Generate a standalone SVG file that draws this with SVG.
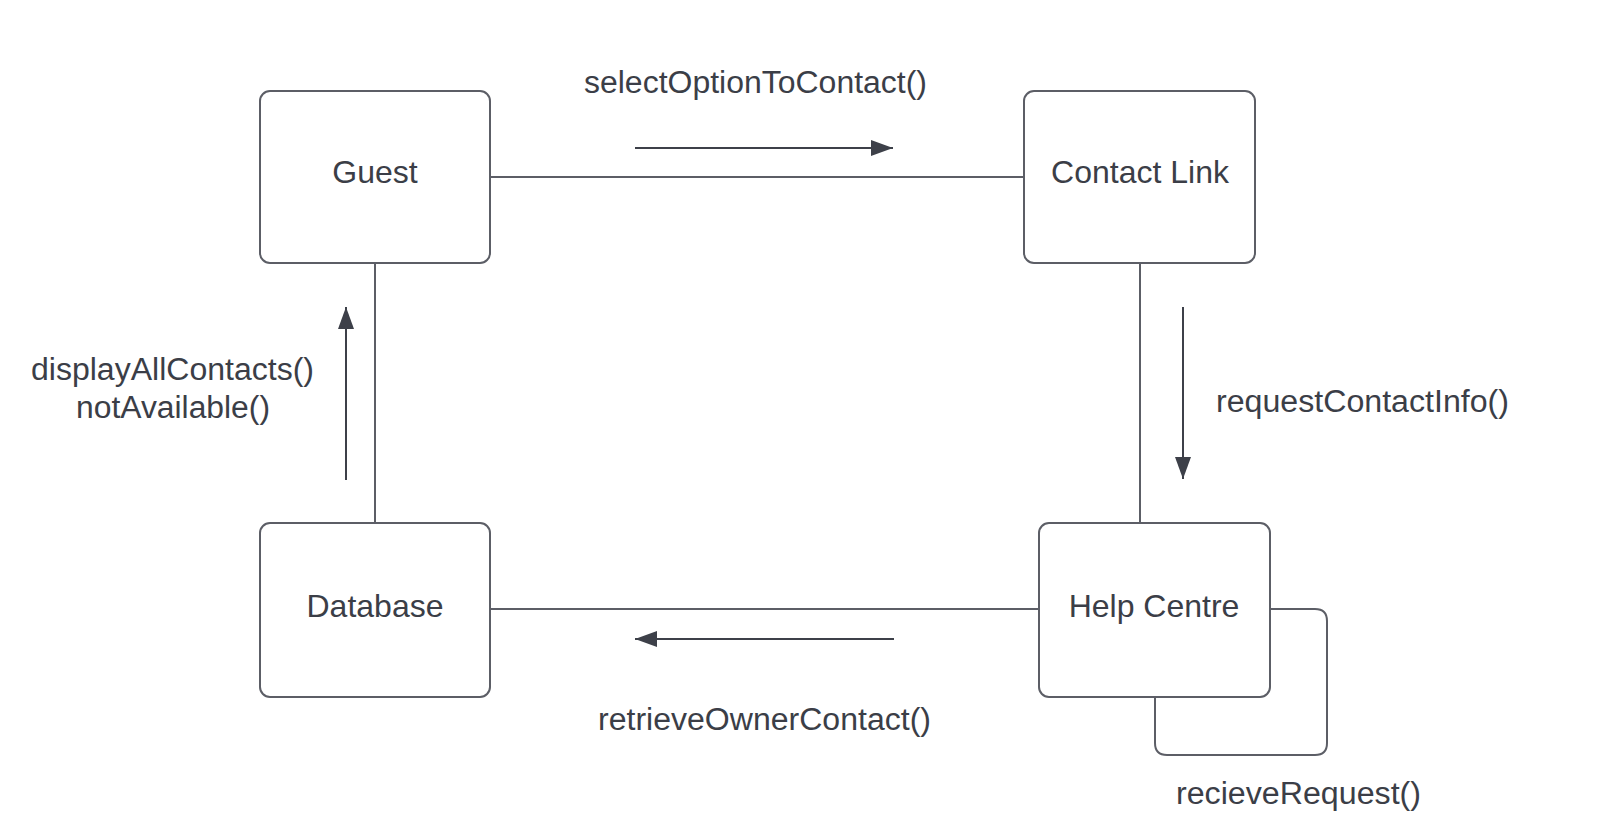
<svg xmlns="http://www.w3.org/2000/svg" width="1600" height="832" viewBox="0 0 1600 832">
<style>
.box{fill:#ffffff;stroke:#5c5e66;stroke-width:2}
.conn{fill:none;stroke:#5c5e66;stroke-width:2}
.msg{fill:none;stroke:#3d4049;stroke-width:2}
.lbl{font-family:"Liberation Sans",Arial,sans-serif;font-size:31px;fill:#3b3e47}
.node{font-family:"Liberation Sans",Arial,sans-serif;font-size:32px;fill:#3b3e47}
</style>
<defs>
<marker id="ah" viewBox="0 0 22 16" refX="22" refY="8" markerWidth="22" markerHeight="16" markerUnits="userSpaceOnUse" orient="auto">
<path d="M0,0 L22,8 L0,16 Z" fill="#3d4049"/>
</marker>
</defs>
<rect width="1600" height="832" fill="#ffffff"/>
<g id="connectors">
<line class="conn" x1="490" y1="177" x2="1024" y2="177"/>
<line class="conn" x1="1140" y1="263" x2="1140" y2="523"/>
<line class="conn" x1="1039" y1="609" x2="490" y2="609"/>
<line class="conn" x1="375" y1="523" x2="375" y2="263"/>
<path class="conn" d="M1270,609 H1315 Q1327,609 1327,621 V743 Q1327,755 1315,755 H1167 Q1155,755 1155,743 V697"/>
<line class="msg" x1="635" y1="148" x2="893" y2="148" marker-end="url(#ah)"/>
<line class="msg" x1="1183" y1="307" x2="1183" y2="479" marker-end="url(#ah)"/>
<line class="msg" x1="894" y1="639" x2="635" y2="639" marker-end="url(#ah)"/>
<line class="msg" x1="346" y1="480" x2="346" y2="307" marker-end="url(#ah)"/>
<text class="lbl" x="584" y="93" textLength="343" lengthAdjust="spacingAndGlyphs">selectOptionToContact()</text>
<text class="lbl" x="1216" y="412" textLength="293" lengthAdjust="spacingAndGlyphs">requestContactInfo()</text>
<text class="lbl" x="598" y="730" textLength="333" lengthAdjust="spacingAndGlyphs">retrieveOwnerContact()</text>
<text class="lbl" x="1176" y="804" textLength="245" lengthAdjust="spacingAndGlyphs">recieveRequest()</text>
<text class="lbl" x="31" y="380" textLength="283" lengthAdjust="spacingAndGlyphs">displayAllContacts()</text>
<text class="lbl" x="76" y="418" textLength="194" lengthAdjust="spacingAndGlyphs">notAvailable()</text>
</g>
<g id="guest">
<rect class="box" x="260" y="91" width="230" height="172" rx="10"/>
<text class="node" x="375" y="183" text-anchor="middle">Guest</text>
</g>
<g id="contact-link">
<rect class="box" x="1024" y="91" width="231" height="172" rx="10"/>
<text class="node" x="1140" y="183" text-anchor="middle">Contact Link</text>
</g>
<g id="database">
<rect class="box" x="260" y="523" width="230" height="174" rx="10"/>
<text class="node" x="375" y="617" text-anchor="middle">Database</text>
</g>
<g id="help-centre">
<rect class="box" x="1039" y="523" width="231" height="174" rx="10"/>
<text class="node" x="1154" y="617" text-anchor="middle">Help Centre</text>
</g>
</svg>
